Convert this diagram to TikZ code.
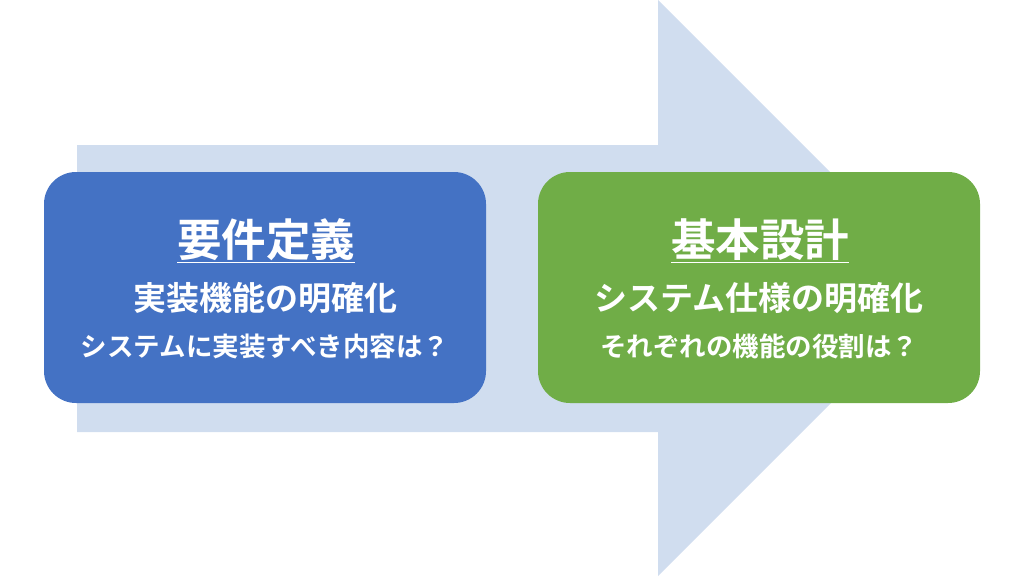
\documentclass[tikz,border=0pt]{standalone}
\usepackage{fontspec}
\newfontfamily\jp{Noto Sans CJK JP}[BoldFont={Noto Sans CJK JP Bold}]
\definecolor{arrowbg}{RGB}{208,221,239}
\definecolor{reqblue}{RGB}{68,114,196}
\definecolor{desgreen}{RGB}{112,173,71}
\begin{document}
\begin{tikzpicture}[x=1pt, y=-1pt,
        box/.style={rounded corners=32pt, minimum width=442pt, minimum height=231pt, inner sep=0pt},
        title/.style={text=white, font=\jp\bfseries\fontsize{44.5}{50}\selectfont},
        sub/.style={text=white, font=\jp\bfseries\fontsize{33}{38}\selectfont},
        note/.style={text=white, font=\jp\bfseries\fontsize{26.5}{30}\selectfont}]
    \useasboundingbox (0,0) rectangle (1024,576);
    \fill [arrowbg] (77,145) -- (658,145) -- (658,0) -- (946,288) -- (658,576) -- (658,432) -- (77,432) -- cycle;
    \node [box, fill=reqblue] (req) at (265,287.5) {};
    \node [box, fill=desgreen] (des) at (759,287.5) {};
    \node [title] (reqtitle) at (266,241) {\underline{要件定義}};
    \node [sub] (reqsub) at (265,298) {実装機能の明確化};
    \node [note] (reqnote) at (265,346) {システムに実装すべき内容は？};
    \node [title] (destitle) at (760,241) {\underline{基本設計}};
    \node [sub] (dessub) at (759,298) {システム仕様の明確化};
    \node [note] (desnote) at (759,346) {それぞれの機能の役割は？};
\end{tikzpicture}
\end{document}
